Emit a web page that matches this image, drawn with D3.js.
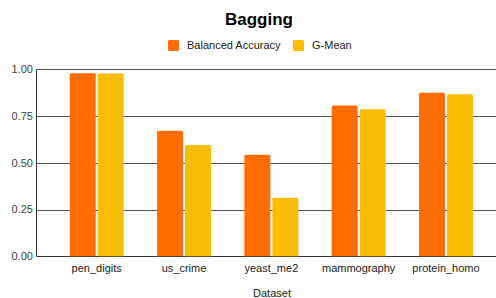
<!DOCTYPE html>
<html>
<head>
<meta charset="utf-8">
<script src="https://cdn.jsdelivr.net/npm/d3@7"></script>
<style>
  body { margin: 0; background: #fff; }
  svg { font-family: "Liberation Sans", Arial, sans-serif; display: block; }
</style>
</head>
<body>
<div id="chart"></div>
<script>
var datasets = ["pen_digits", "us_crime", "yeast_me2", "mammography", "protein_homo"];
var seriesNames = ["Balanced Accuracy", "G-Mean"];
var balancedAccuracy = [0.979, 0.672, 0.543, 0.807, 0.875];
var gMean = [0.978, 0.595, 0.313, 0.786, 0.866];
var yTicks = [0, 0.25, 0.5, 0.75, 1];

var width = 496, height = 298;
var colors = ["#ff6d01", "#fbbc04"];

var svg = d3.select("#chart").append("svg")
    .attr("width", width)
    .attr("height", height);

var x = d3.scaleBand()
    .domain(datasets)
    .range([36.7, 506])
    .paddingInner(0)
    .paddingOuter(0.187);

var y = d3.scaleLinear()
    .domain([0, 1])
    .range([256.3, 69.3]);

var inner = d3.scaleBand()
    .domain(seriesNames)
    .range([-27, 27])
    .paddingInner(0.07);

// grid lines
svg.append("g")
    .selectAll("line")
    .data(yTicks)
    .enter()
    .append("line")
    .attr("x1", 36.7)
    .attr("x2", width)
    .attr("y1", function(d) { return Math.round(y(d)) + 0.5; })
    .attr("y2", function(d) { return Math.round(y(d)) + 0.5; })
    .attr("stroke", function(d) { return d === 0 ? "#333" : "#555"; })
    .attr("stroke-width", 1);

// left axis line
svg.append("line")
    .attr("x1", 36.5).attr("x2", 36.5)
    .attr("y1", y(1)).attr("y2", y(0))
    .attr("stroke", "#333");

// y tick labels
svg.append("g")
    .selectAll("text")
    .data(yTicks)
    .enter()
    .append("text")
    .attr("x", 33)
    .attr("y", function(d) { return y(d); })
    .attr("dy", "0.35em")
    .attr("text-anchor", "end")
    .attr("font-size", 11)
    .attr("fill", "#444")
    .text(function(d) { return d3.format(".2f")(d); });

// bars
var rows = datasets.map(function(name, i) {
    return { name: name, values: [balancedAccuracy[i], gMean[i]] };
});

var groups = svg.append("g")
    .selectAll("g")
    .data(rows)
    .enter()
    .append("g")
    .attr("transform", function(d) {
        return "translate(" + (x(d.name) + x.bandwidth() / 2) + ",0)";
    });

groups.selectAll("path")
    .data(function(d) {
        return d.values.map(function(v, j) { return { key: seriesNames[j], value: v, idx: j }; });
    })
    .enter()
    .append("path")
    .attr("fill", function(d) { return colors[d.idx]; })
    .attr("d", function(d) {
        var x0 = inner(d.key), w = inner.bandwidth();
        var top = y(d.value), bottom = y(0), r = 1.5;
        return "M" + x0 + "," + bottom +
            "V" + (top + r) +
            "Q" + x0 + "," + top + " " + (x0 + r) + "," + top +
            "H" + (x0 + w - r) +
            "Q" + (x0 + w) + "," + top + " " + (x0 + w) + "," + (top + r) +
            "V" + bottom + "Z";
    });

// x labels
svg.append("g")
    .selectAll("text")
    .data(datasets)
    .enter()
    .append("text")
    .attr("x", function(d) { return x(d) + x.bandwidth() / 2; })
    .attr("y", 272)
    .attr("text-anchor", "middle")
    .attr("font-size", 11)
    .attr("fill", "#222")
    .text(function(d) { return d; });

// axis title
svg.append("text")
    .attr("x", 272)
    .attr("y", 297)
    .attr("text-anchor", "middle")
    .attr("font-size", 11)
    .attr("fill", "#222")
    .text("Dataset");

// title
svg.append("text")
    .attr("x", 259)
    .attr("y", 25)
    .attr("text-anchor", "middle")
    .attr("font-size", 17)
    .attr("font-weight", "bold")
    .attr("fill", "#000")
    .text("Bagging");

// legend
var legendX = [168, 293];
var legend = svg.append("g")
    .selectAll("g")
    .data(seriesNames)
    .enter()
    .append("g")
    .attr("transform", function(d, i) { return "translate(" + legendX[i] + ",40)"; });

legend.append("rect")
    .attr("width", 11)
    .attr("height", 11)
    .attr("rx", 1.5)
    .attr("fill", function(d, i) { return colors[i]; });

legend.append("text")
    .attr("x", 19)
    .attr("y", 5.5)
    .attr("dy", "0.35em")
    .attr("font-size", 11)
    .attr("fill", "#222")
    .text(function(d) { return d; });
</script>
</body>
</html>
